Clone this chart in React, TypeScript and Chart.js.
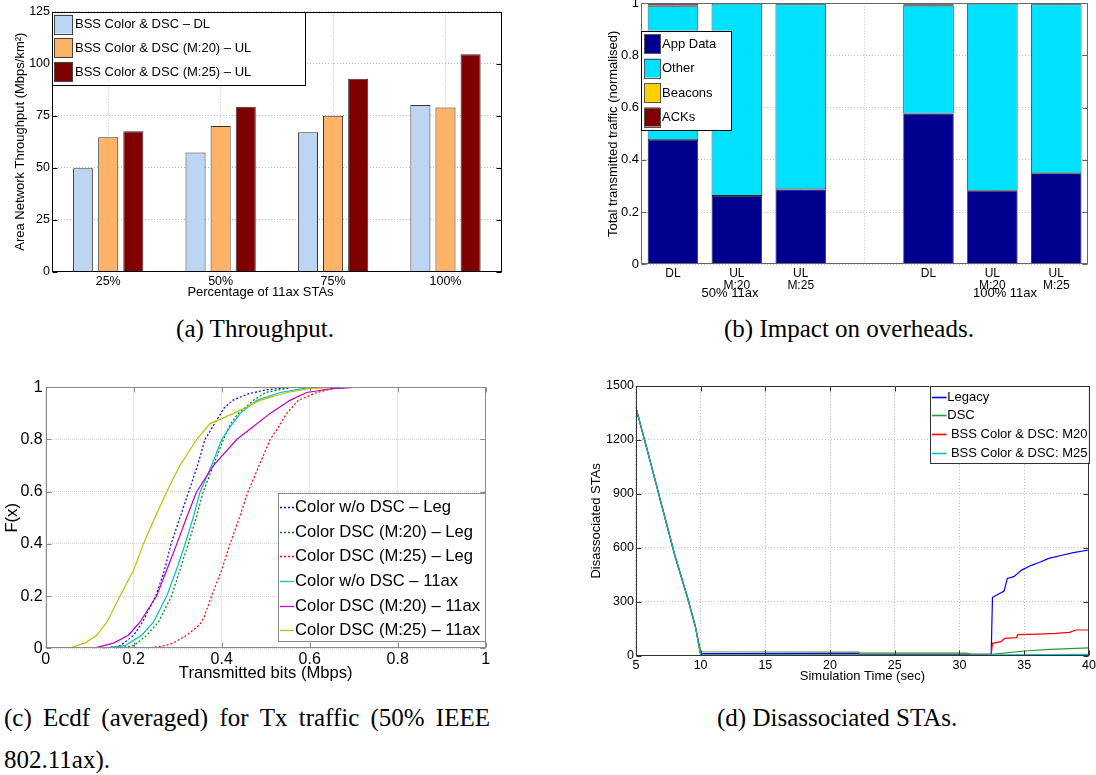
import React, { useEffect, useRef } from "react";
import { Chart, registerables } from "chart.js";

Chart.register(...registerables);

const SANS = "'Liberation Sans', Arial, Helvetica, sans-serif";
const SERIF = "'Liberation Serif', 'Times New Roman', serif";
Chart.defaults.font.family = SANS;
Chart.defaults.color = "#000";

// ---------------- (a) Throughput ----------------
const thrCategories = ["25%", "50%", "75%", "100%"];
const thrDL = [49.7, 57.3, 67.0, 80.1];
const thrUL20 = [64.6, 70.0, 75.0, 78.9];
const thrUL25 = [67.5, 79.3, 92.8, 104.5];
const thrSeries = ["BSS Color & DSC – DL", "BSS Color & DSC (M:20) – UL", "BSS Color & DSC (M:25) – UL"];
const thrColors = ["#BBD5F2", "#FFB366", "#7F0000"];
const thrXTitle = "Percentage of 11ax STAs";

// ---------------- (b) Overheads ----------------
const ovhCategories = [["DL"], ["UL", "M:20"], ["UL", "M:25"], [""], ["DL"], ["UL", "M:20"], ["UL", "M:25"]];
const ovhGroups = ["50% 11ax", "100% 11ax"];
const ovhAppData = [0.476, 0.262, 0.287, null, 0.578, 0.282, 0.349];
const ovhOther = [0.513, 0.736, 0.709, null, 0.413, 0.716, 0.647];
const ovhBeacons = [0.003, 0.001, 0.001, null, 0.003, 0.001, 0.001];
const ovhAcks = [0.008, 0.001, 0.003, null, 0.006, 0.001, 0.003];
const ovhSeries = ["App Data", "Other", "Beacons", "ACKs"];
const ovhColors = ["#00008F", "#00E0FF", "#FFD000", "#800000"];

// ---------------- (c) ECDF ----------------
const legNoDscX = [0.13, 0.17, 0.2, 0.22, 0.25, 0.27, 0.285, 0.305, 0.325, 0.345, 0.362, 0.38, 0.405, 0.425, 0.46, 0.5, 0.56];
const legNoDscF = [0, 0.01, 0.05, 0.1, 0.2, 0.3, 0.4, 0.5, 0.6, 0.7, 0.8, 0.85, 0.92, 0.95, 0.975, 0.99, 1];
const legM20X = [0.16, 0.2, 0.23, 0.256, 0.286, 0.305, 0.324, 0.342, 0.358, 0.381, 0.404, 0.42, 0.438, 0.472, 0.5, 0.56];
const legM20F = [0, 0.01, 0.05, 0.1, 0.2, 0.3, 0.4, 0.5, 0.6, 0.7, 0.8, 0.86, 0.9, 0.95, 0.98, 1];
const legM25X = [0.23, 0.27, 0.29, 0.32, 0.35, 0.36, 0.377, 0.4, 0.419, 0.44, 0.46, 0.485, 0.51, 0.53, 0.548, 0.574, 0.616, 0.654, 0.7];
const legM25F = [0, 0.01, 0.02, 0.05, 0.09, 0.12, 0.2, 0.3, 0.4, 0.5, 0.6, 0.7, 0.8, 0.85, 0.9, 0.95, 0.98, 0.995, 1];
const axNoDscX = [0.13, 0.18, 0.218, 0.245, 0.275, 0.297, 0.317, 0.335, 0.351, 0.377, 0.4, 0.42, 0.442, 0.48, 0.533, 0.6];
const axNoDscF = [0, 0.01, 0.05, 0.1, 0.2, 0.3, 0.4, 0.5, 0.6, 0.7, 0.8, 0.85, 0.9, 0.95, 0.98, 1];
const axM20X = [0.108, 0.154, 0.188, 0.214, 0.252, 0.275, 0.298, 0.32, 0.343, 0.381, 0.434, 0.472, 0.51, 0.555, 0.593, 0.65, 0.7, 0.752];
const axM20F = [0, 0.02, 0.05, 0.1, 0.2, 0.3, 0.4, 0.5, 0.6, 0.7, 0.8, 0.85, 0.9, 0.95, 0.98, 0.995, 1, 1];
const axM25X = [0.052, 0.089, 0.116, 0.139, 0.169, 0.2, 0.222, 0.248, 0.275, 0.305, 0.343, 0.373, 0.4, 0.427, 0.487, 0.548, 0.6, 0.654];
const axM25F = [0, 0.02, 0.05, 0.1, 0.2, 0.3, 0.4, 0.5, 0.6, 0.7, 0.8, 0.86, 0.88, 0.9, 0.95, 0.98, 0.995, 1];
const ecdfSeries = [
  "Color w/o DSC – Leg",
  "Color DSC (M:20) – Leg",
  "Color DSC (M:25) – Leg",
  "Color w/o DSC – 11ax",
  "Color DSC (M:20) – 11ax",
  "Color DSC (M:25) – 11ax",
];
const ecdfColors = ["#0000FF", "#008000", "#FF0000", "#00BFBF", "#BF00BF", "#BFBF00"];

// ---------------- (d) Disassociated STAs ----------------
const legacyT = [5, 6, 7, 8, 9, 9.6, 10, 22.2, 22.3, 32.45, 32.55, 33.45, 33.7, 34.2, 34.8, 35.6, 36.1, 36.9, 38, 38.8, 40];
const legacyV = [1380, 1110, 835, 560, 320, 160, 12, 12, 7, 7, 325, 360, 430, 440, 476, 504, 517, 541, 560, 573, 588];
const dscT = [5, 6, 7, 8, 9, 9.6, 10, 22.2, 22.4, 30.5, 31, 32.5, 35, 37, 40];
const dscV = [1380, 1110, 835, 560, 320, 160, 22, 20, 14, 14, 7, 7, 26, 35, 44];
const m20T = [5, 6, 7, 8, 9, 9.6, 10, 32.45, 32.55, 33.2, 33.5, 34.4, 34.5, 36.1, 37.4, 38.5, 39, 40];
const m20V = [1380, 1110, 835, 560, 320, 160, 3, 3, 69, 78, 96, 100, 117, 120, 124, 130, 143, 143];
const m25T = [5, 6, 7, 8, 9, 9.6, 10, 30, 40];
const m25V = [1380, 1110, 835, 560, 320, 160, 3, 3, 7];
const disSeries = ["Legacy", "DSC", " BSS Color & DSC: M20", " BSS Color & DSC: M25"];
const disColors = ["#0000FF", "#2E9B2E", "#FF0000", "#00BFBF"];

const pts = (xs: number[], ys: number[]) => xs.map((x, i) => ({ x, y: ys[i] }));
const fmt1 = (v: any) => String(Math.round(Number(v) * 10) / 10);
const fmtInt = (v: any) => String(Math.round(Number(v)));

// ---------------- plugins ----------------
const matFrame = {
  id: "matFrame",
  afterDatasetsDraw(chart: any, _a: any, o: any) {
    if (!o) return;
    const { ctx, chartArea: a } = chart;
    const L = Math.round(a.left) + 0.5;
    const R = Math.round(a.right) - 0.5;
    const T = Math.round(a.top) + 0.5;
    const B = Math.round(a.bottom) - 0.5;
    const len = o.tickLen ?? 5;
    ctx.save();
    ctx.strokeStyle = o.color || "#000";
    ctx.lineWidth = 1;
    ctx.beginPath();
    if (o.yTicks) {
      const ys = chart.scales.y;
      ys.ticks.forEach((_t: any, i: number) => {
        const p = Math.round(ys.getPixelForTick(i)) + 0.5;
        ctx.moveTo(L, p);
        ctx.lineTo(L + len, p);
        ctx.moveTo(R, p);
        ctx.lineTo(R - len, p);
      });
    }
    if (o.xTicks) {
      const xs = chart.scales.x;
      xs.ticks.forEach((_t: any, i: number) => {
        const p = Math.round(xs.getPixelForTick(i)) + 0.5;
        ctx.moveTo(p, B);
        ctx.lineTo(p, B - len);
        ctx.moveTo(p, T);
        ctx.lineTo(p, T + len);
      });
    }
    ctx.stroke();
    ctx.strokeRect(L, T, R - L, B - T);
    ctx.restore();
  },
};

const boxLegend = {
  id: "boxLegend",
  afterDraw(chart: any, _a: any, o: any) {
    if (!o || !o.items) return;
    const ctx = chart.ctx;
    ctx.save();
    ctx.fillStyle = "#fff";
    ctx.fillRect(o.x, o.y, o.w, o.h);
    ctx.strokeStyle = o.frame || "#000";
    ctx.lineWidth = 1;
    ctx.strokeRect(Math.round(o.x) + 0.5, Math.round(o.y) + 0.5, Math.round(o.w), Math.round(o.h));
    ctx.font = `${o.fontSize}px ${SANS}`;
    ctx.textBaseline = "middle";
    ctx.textAlign = "left";
    const items = o.items;
    for (let i = 0; i < items.length; i++) {
      const it = items[i];
      const cy = o.firstY + i * o.rowH;
      if (it.kind === "patch") {
        ctx.fillStyle = it.color;
        ctx.fillRect(o.patchX, cy - o.patchH / 2, o.patchW, o.patchH);
        ctx.strokeStyle = o.patchBorder || "#444";
        ctx.strokeRect(Math.round(o.patchX) + 0.5, Math.round(cy - o.patchH / 2) + 0.5, Math.round(o.patchW), Math.round(o.patchH));
      } else {
        ctx.strokeStyle = it.color;
        ctx.lineWidth = o.lineW || 1.2;
        ctx.setLineDash(it.dash ? [2, 2] : []);
        ctx.beginPath();
        ctx.moveTo(o.lineX1, Math.round(cy) + 0.5);
        ctx.lineTo(o.lineX2, Math.round(cy) + 0.5);
        ctx.stroke();
        ctx.setLineDash([]);
        ctx.lineWidth = 1;
      }
      ctx.fillStyle = "#000";
      ctx.fillText(it.label, o.textX, cy + 0.5);
    }
    ctx.restore();
  },
};

const extraText = {
  id: "extraText",
  afterDraw(chart: any, _a: any, o: any) {
    if (!o || !o.items) return;
    const ctx = chart.ctx;
    ctx.save();
    ctx.fillStyle = "#000";
    ctx.textBaseline = "middle";
    ctx.textAlign = "center";
    for (let i = 0; i < o.items.length; i++) {
      const it = o.items[i];
      ctx.font = `${it.size}px ${SANS}`;
      ctx.fillText(it.text, it.x, it.y);
    }
    ctx.restore();
  },
};

const PLUGINS = [matFrame, boxLegend, extraText];

const gridStyle = (color: string) => ({ color, drawTicks: false, lineWidth: 1 });

// ---------------- configs ----------------
function configA(): any {
  return {
    type: "bar",
    plugins: PLUGINS,
    data: {
      labels: thrCategories,
      datasets: [thrDL, thrUL20, thrUL25].map((d, i) => ({
        label: thrSeries[i],
        data: d,
        backgroundColor: thrColors[i],
        borderColor: "#333",
        borderWidth: 1,
        barPercentage: 0.8,
        categoryPercentage: 0.67,
      })),
    },
    options: {
      animation: false,
      responsive: true,
      maintainAspectRatio: false,
      layout: { padding: { left: 8.2, top: 11.7, right: 8.3, bottom: 0 } },
      plugins: {
        legend: { display: false },
        tooltip: { enabled: false },
        matFrame: { color: "#000", yTicks: true, xTicks: false, tickLen: 5 },
        boxLegend: {
          x: 52, y: 12, w: 253, h: 73, fontSize: 13, firstY: 24, rowH: 23.8,
          patchX: 54, patchW: 18, patchH: 19, textX: 75, patchBorder: "#444",
          items: thrSeries.map((s, i) => ({ label: s, kind: "patch", color: thrColors[i] })),
        },
        extraText: { items: [{ text: thrXTitle, x: 260.5, y: 292, size: 13 }] },
      },
      scales: {
        x: {
          offset: true,
          grid: { ...gridStyle("#bdbdbd"), offset: false },
          border: { display: false, dash: [1, 2] },
          ticks: { font: { size: 12.5 }, color: "#000", padding: 2, maxRotation: 0, autoSkip: false },
          afterFit(s: any) { s.height = 28.3; s.paddingLeft = 0; s.paddingRight = 0; },
        },
        y: {
          min: 0, max: 125,
          grid: gridStyle("#bdbdbd"),
          border: { display: false, dash: [1, 2] },
          ticks: { stepSize: 25, font: { size: 12.5 }, color: "#000", padding: 2, callback: fmtInt },
          title: { display: true, text: "Area Network Throughput (Mbps/km²)", font: { size: 13 }, color: "#000", padding: { top: 4, bottom: 0 } },
          afterFit(s: any) { s.width = 43.8; s.paddingTop = 0; s.paddingBottom = 0; },
        },
      },
    },
  };
}

function configB(): any {
  const series = [ovhAppData, ovhOther, ovhBeacons, ovhAcks];
  return {
    type: "bar",
    plugins: PLUGINS,
    data: {
      labels: ovhCategories,
      datasets: series.map((d, i) => ({
        label: ovhSeries[i],
        data: d,
        backgroundColor: ovhColors[i],
        borderColor: "#1a1a1a",
        borderWidth: 0.8,
        borderSkipped: false,
        barPercentage: 0.79,
        categoryPercentage: 1,
      })),
    },
    options: {
      animation: false,
      responsive: true,
      maintainAspectRatio: false,
      layout: { padding: { left: 41.2, top: 3.3, right: 7.8, bottom: 0 } },
      plugins: {
        legend: { display: false },
        tooltip: { enabled: false },
        matFrame: { color: "#666", yTicks: true, xTicks: false, tickLen: 5 },
        boxLegend: {
          x: 81, y: 30.7, w: 90, h: 99.3, fontSize: 13, firstY: 43.5, rowH: 24.5,
          patchX: 84.3, patchW: 15.7, patchH: 19, textX: 102, patchBorder: "#555",
          items: ovhSeries.map((s, i) => ({ label: s, kind: "patch", color: ovhColors[i] })),
        },
        extraText: {
          items: [
            { text: ovhGroups[0], x: 170, y: 293, size: 13 },
            { text: ovhGroups[1], x: 445, y: 293, size: 13 },
          ],
        },
      },
      scales: {
        x: {
          stacked: true,
          offset: true,
          grid: { ...gridStyle("#c4c4c4"), offset: false },
          border: { display: false, dash: [1, 2] },
          ticks: { font: { size: 12, lineHeight: 1 }, color: "#000", padding: 3, maxRotation: 0, autoSkip: false },
          afterFit(s: any) { s.height = 35.7; s.paddingLeft = 0; s.paddingRight = 0; },
        },
        y: {
          stacked: true,
          min: 0, max: 1,
          grid: gridStyle("#c4c4c4"),
          border: { display: false, dash: [1, 2] },
          ticks: { stepSize: 0.2, font: { size: 13 }, color: "#000", padding: 2, callback: fmt1 },
          title: { display: true, text: "Total transmitted traffic (normalised)", font: { size: 13 }, color: "#000", padding: { top: 4, bottom: 0 } },
          afterFit(s: any) { s.width = 39.8; s.paddingTop = 0; s.paddingBottom = 0; },
        },
      },
    },
  };
}

function configC(): any {
  const xs = [legNoDscX, legM20X, legM25X, axNoDscX, axM20X, axM25X];
  const fs = [legNoDscF, legM20F, legM25F, axNoDscF, axM20F, axM25F];
  return {
    type: "line",
    plugins: PLUGINS,
    data: {
      datasets: xs.map((x, i) => ({
        label: ecdfSeries[i],
        data: pts(x, fs[i]),
        borderColor: ecdfColors[i],
        borderWidth: 1.2,
        borderDash: i < 3 ? [2, 2] : [],
        pointRadius: 0,
        fill: false,
        tension: 0,
        order: 6 - i,
      })),
    },
    options: {
      animation: false,
      responsive: true,
      maintainAspectRatio: false,
      layout: { padding: { left: 0.3, top: 12.3, right: 14.3, bottom: 0 } },
      plugins: {
        legend: { display: false },
        tooltip: { enabled: false },
        matFrame: { color: "#8a8a8a", yTicks: true, xTicks: true, tickLen: 5 },
        boxLegend: {
          x: 278.3, y: 118.3, w: 207.4, h: 148.4, fontSize: 16.6, firstY: 132.3, rowH: 24.55,
          lineX1: 280, lineX2: 294, textX: 295, frame: "#8a8a8a", lineW: 1.3,
          items: ecdfSeries.map((s, i) => ({ label: s, kind: "line", color: ecdfColors[i], dash: i < 3 })),
        },
        extraText: false,
      },
      scales: {
        x: {
          type: "linear",
          min: 0, max: 1,
          grid: gridStyle("#d4d4d4"),
          border: { display: false, dash: [1, 1] },
          ticks: { stepSize: 0.2, font: { size: 16 }, color: "#000", padding: 2, maxRotation: 0, callback: fmt1 },
          title: { display: true, text: "Transmitted bits (Mbps)", font: { size: 16.6 }, color: "#000", padding: { top: 0, bottom: 1.7 } },
          afterFit(s: any) { s.height = 36.7; s.paddingLeft = 0; s.paddingRight = 0; },
        },
        y: {
          min: 0, max: 1,
          grid: gridStyle("#d4d4d4"),
          border: { display: false, dash: [1, 1] },
          ticks: { stepSize: 0.2, font: { size: 16 }, color: "#000", padding: 3, callback: fmt1 },
          title: { display: true, text: "F(x)", font: { size: 16.6 }, color: "#000", padding: { top: 2, bottom: 0 } },
          afterFit(s: any) { s.width = 45.4; s.paddingTop = 0; s.paddingBottom = 0; },
        },
      },
    },
  };
}

function configD(): any {
  const ts = [legacyT, dscT, m20T, m25T];
  const vs = [legacyV, dscV, m20V, m25V];
  return {
    type: "line",
    plugins: PLUGINS,
    data: {
      datasets: ts.map((t, i) => ({
        label: disSeries[i],
        data: pts(t, vs[i]),
        borderColor: disColors[i],
        borderWidth: 1.2,
        pointRadius: 0,
        fill: false,
        tension: 0,
        order: 3 - i,
      })),
    },
    options: {
      animation: false,
      responsive: true,
      maintainAspectRatio: false,
      layout: { padding: { left: 24.2, top: 11, right: 7.1, bottom: 0 } },
      plugins: {
        legend: { display: false },
        tooltip: { enabled: false },
        matFrame: { color: "#333", yTicks: true, xTicks: true, tickLen: 5 },
        boxLegend: {
          x: 369.5, y: 11, w: 159.4, h: 76.7, fontSize: 13, firstY: 21.7, rowH: 18.6,
          lineX1: 372, lineX2: 386.5, textX: 387.3, frame: "#333", lineW: 1.6,
          items: disSeries.map((s, i) => ({ label: s, kind: "line", color: disColors[i], dash: false })),
        },
        extraText: false,
      },
      scales: {
        x: {
          type: "linear",
          min: 5, max: 40,
          grid: gridStyle("#c4c4c4"),
          border: { display: false, dash: [1, 2] },
          ticks: { stepSize: 5, font: { size: 12.5 }, color: "#000", padding: 2, maxRotation: 0, callback: fmtInt },
          title: { display: true, text: "Simulation Time (sec)", font: { size: 13 }, color: "#000", padding: { top: 0, bottom: 1.2 } },
          afterFit(s: any) { s.height = 29.3; s.paddingLeft = 0; s.paddingRight = 0; },
        },
        y: {
          min: 0, max: 1500,
          grid: gridStyle("#c4c4c4"),
          border: { display: false, dash: [1, 2] },
          ticks: { stepSize: 300, font: { size: 12.5 }, color: "#000", padding: 2, callback: fmtInt },
          title: { display: true, text: "Disassociated STAs", font: { size: 13 }, color: "#000", padding: { top: 4, bottom: 0 } },
          afterFit(s: any) { s.width = 51.7; s.paddingTop = 0; s.paddingBottom = 0; },
        },
      },
    },
  };
}

// ---------------- components ----------------
type BoxProps = { left: number; top: number; width: number; height: number; make: () => any };

function ChartBox({ left, top, width, height, make }: BoxProps) {
  const ref = useRef<HTMLCanvasElement | null>(null);
  useEffect(() => {
    if (!ref.current) return;
    const chart = new Chart(ref.current, make());
    return () => chart.destroy();
  }, []);
  return (
    <div style={{ position: "absolute", left, top, width, height }}>
      <canvas ref={ref} />
    </div>
  );
}

const capBase: React.CSSProperties = {
  position: "absolute",
  fontFamily: SERIF,
  fontSize: 25,
  lineHeight: "28px",
  color: "#000",
  whiteSpace: "nowrap",
};

const captionA = "(a) Throughput.";
const captionB = "(b) Impact on overheads.";
const captionC1 = "(c) Ecdf (averaged) for Tx traffic (50% IEEE";
const captionC2 = "802.11ax).";
const captionD = "(d) Disassociated STAs.";

export default function App() {
  return (
    <div style={{ position: "absolute", left: 0, top: 0, width: 1096, height: 775, background: "#fff", overflow: "hidden" }}>
      <ChartBox left={0} top={0} width={510} height={300} make={configA} />
      <ChartBox left={560} top={0} width={536} height={300} make={configB} />
      <ChartBox left={0} top={375} width={500} height={310} make={configC} />
      <ChartBox left={560} top={375} width={536} height={310} make={configD} />
      <div style={{ ...capBase, left: 55, top: 315, width: 400, textAlign: "center" }}>{captionA}</div>
      <div style={{ ...capBase, left: 649, top: 315, width: 400, textAlign: "center" }}>{captionB}</div>
      <div style={{ ...capBase, left: 4, top: 704, width: 486, display: "flex", justifyContent: "space-between" }}>
        {captionC1.split(" ").map((w, i) => (
          <span key={i}>{w}</span>
        ))}
      </div>
      <div style={{ ...capBase, left: 4, top: 746 }}>{captionC2}</div>
      <div style={{ ...capBase, left: 717, top: 704 }}>{captionD}</div>
    </div>
  );
}
